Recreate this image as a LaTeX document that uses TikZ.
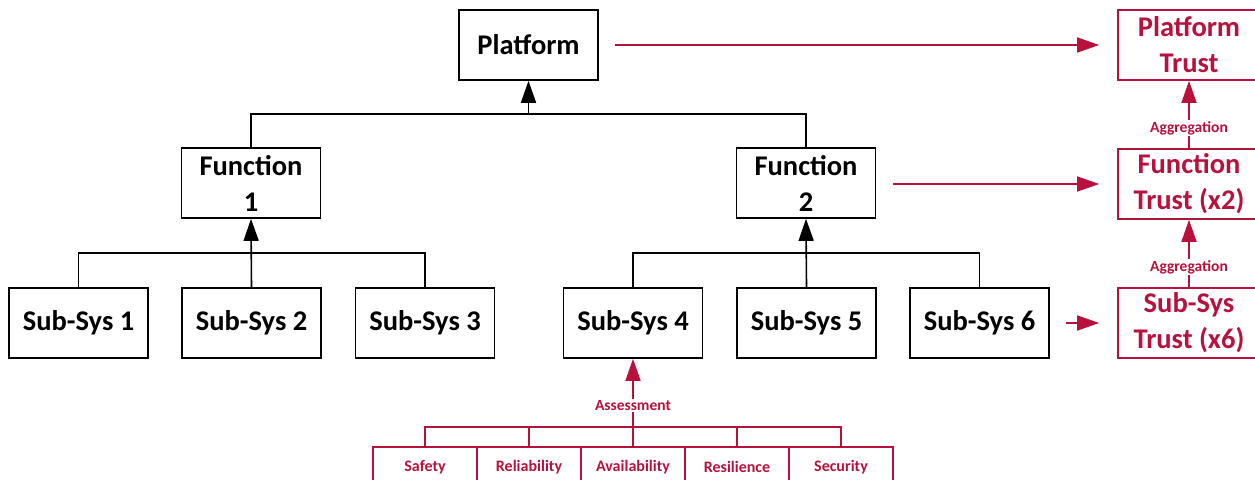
\documentclass[tikz,border=0pt]{standalone}
\usepackage{fontspec}
\setmainfont{Carlito}
\usetikzlibrary{arrows.meta}
\definecolor{tred}{RGB}{184,18,60}
\tikzset{
  x=1pt, y=-1pt,
  box/.style={draw=black, line width=1.6pt, minimum width=139pt, minimum height=70pt, inner sep=0pt, align=center, font=\fontsize{28.5}{36}\selectfont\bfseries},
  rbox/.style={box, draw=tred, text=tred, minimum width=142pt},
  sbox/.style={draw=tred, line width=1.6pt, minimum width=104pt, minimum height=40pt, inner sep=0pt, text=tred, font=\fontsize{16}{18}\selectfont\bfseries},
  conn/.style={line width=1.6pt},
  arr/.style={conn, -{Triangle[length=22pt,width=15pt]}},
  rconn/.style={conn, draw=tred},
  rarr/.style={rconn, -{Triangle[length=22pt,width=15pt]}},
  lab/.style={fill=white, inner sep=1.5pt, text=tred, font=\fontsize{15.5}{18}\selectfont\bfseries}
}
\begin{document}
\begin{tikzpicture}
\useasboundingbox (0,0) rectangle (1255,479);
\clip (0,0) rectangle (1255,479);
% black tree
\node[box] (pf) at (528.5,45) {Platform};
\node[box] (f1) at (251,183) {Function\\1};
\node[box] (f2) at (806,183) {Function\\2};
\node[box] (s1) at (78.5,323) {Sub-Sys 1};
\node[box] (s2) at (251.5,323) {Sub-Sys 2};
\node[box] (s3) at (425,323) {Sub-Sys 3};
\node[box] (s4) at (633,323) {Sub-Sys 4};
\node[box] (s5) at (806.5,323) {Sub-Sys 5};
\node[box] (s6) at (979.5,323) {Sub-Sys 6};
\draw[conn] (s1.north) -- ++(0,-34) -| (s3.north);
\draw[arr] (s2.north) -- (f1.south);
\draw[conn] (s4.north) -- ++(0,-34) -| (s6.north);
\draw[arr] (s5.north) -- (f2.south);
\draw[conn] (f1.north) -- ++(0,-33) -| (f2.north);
\coordinate (pb) at (528.5,115);
\draw[arr] (pb) -- (pf.south);
% red trust column
\node[rbox] (pt) at (1189,45) {Platform\\Trust};
\node[rbox] (ft) at (1189,184) {Function\\Trust (x2)};
\node[rbox] (st) at (1189,323) {Sub-Sys\\Trust (x6)};
\draw[rarr] (ft.north) -- (pt.south) node[lab, pos=0.3] {Aggregation};
\draw[rarr] (st.north) -- (ft.south) node[lab, pos=0.3] {Aggregation};
\coordinate (pa) at (615,45);
\coordinate (fa) at (893,184);
\coordinate (sa) at (1066,323);
\draw[rarr] (pa) -- ([xshift=-18pt]pt.west);
\draw[rarr] (fa) -- ([xshift=-18pt]ft.west);
\draw[rarr] (sa) -- ([xshift=-18pt]st.west);
% assessment
\node[sbox] (q1) at (425,467) {Safety};
\node[sbox] (q2) at (529,467) {Reliability};
\node[sbox] (q3) at (633,467) {Availability};
\node[sbox] (q4) at (737,467) {Resilience};
\node[sbox] (q5) at (841,467) {Security};
\coordinate (qb) at (633,428);
\draw[rconn] (q1.north) -- ++(0,-19) -| (q5.north);
\draw[rconn] (q2.north) -- ++(0,-19);
\draw[rconn] (q4.north) -- ++(0,-19);
\draw[rconn] (qb) -- (q3.north);
\draw[rarr] (qb) -- (s4.south) node[lab, pos=0.33] {Assessment};
\end{tikzpicture}
\end{document}
